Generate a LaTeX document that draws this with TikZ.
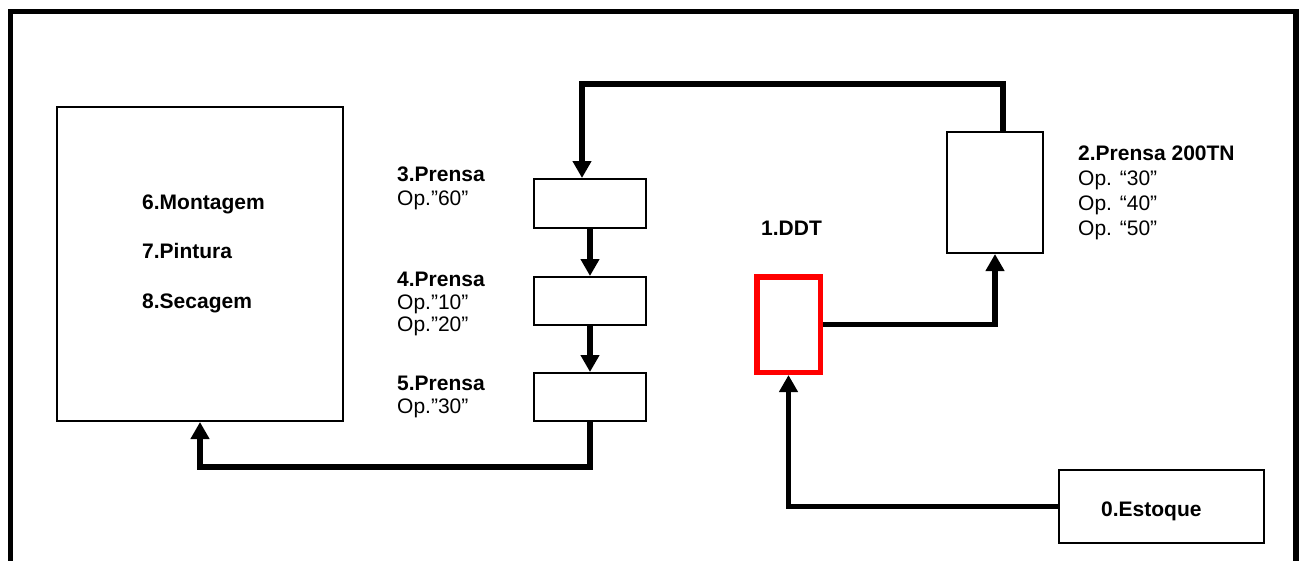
\documentclass[tikz,border=0pt]{standalone}
\usepackage{fontspec}
\setmainfont{Liberation Sans}
\usetikzlibrary{arrows.meta}
\begin{document}
\begin{tikzpicture}[x=1pt,y=-1pt,
  box/.style={draw=black,line width=2pt,fill=white,inner sep=0pt,rectangle},
  conn/.style={line width=5.5pt,line join=miter,-{Triangle[width=18pt,length=17pt]}},
  plain/.style={line width=5.5pt,line join=miter},
  lbl/.style={anchor=base west,inner sep=0pt,font=\fontsize{21}{25}\selectfont},
  blbl/.style={lbl,font=\fontsize{21}{25}\selectfont\bfseries}]
\useasboundingbox (0,0) rectangle (1300,560);
\fill[white] (0,0) rectangle (1300,560);
% outer frame (open at the bottom edge of the picture)
\draw[line width=5.5pt,line join=miter] (10.5,575) -- (10.5,11.5) -- (1296,11.5) -- (1296,575);

% boxes
\node[box,minimum width=286pt,minimum height=314pt] (mont) at (200,264) {};
\node[box,minimum width=112pt,minimum height=49pt] (p3) at (590,203.5) {};
\node[box,minimum width=112pt,minimum height=48pt] (p4) at (590,301) {};
\node[box,minimum width=112pt,minimum height=48pt] (p5) at (590,397) {};
\node[box,minimum width=96pt,minimum height=121pt] (p2) at (995,192.5) {};
\node[draw=red,line width=5.5pt,inner sep=0pt,minimum width=63.5pt,minimum height=95.5pt] (ddt) at (788.5,324.5) {};
\node[box,minimum width=205pt,minimum height=73pt] (est) at (1161.5,506.5) {};

% connectors
\coordinate (topy) at (0,84);
\coordinate (boty) at (0,467);
\draw[conn] ([xshift=8pt]p2.north) -- ([xshift=8pt]p2.north |- topy) -- ([xshift=-8pt]p3.north |- topy) -- ([xshift=-8pt]p3.north);
\draw[conn] (p3.south) -- (p4.north);
\draw[conn] (p4.south) -- (p5.north);
\draw[conn] (p5.south) -- (p5.south |- boty) -| (mont.south);
\draw[conn] (ddt.east) -| (p2.south);
\draw[conn] (est.west) -| (ddt.south);

% labels
\node[blbl] (t6) at (142,209) {6.Montagem};
\node[blbl] (t7) at (142,258) {7.Pintura};
\node[blbl] (t8) at (142,308) {8.Secagem};

\node[blbl] (t3a) at (397,181.7) {3.Prensa};
\node[lbl]  (t3b) at (397,205) {Op.”60”};
\node[blbl] (t4a) at (397,286) {4.Prensa};
\node[lbl]  (t4b) at (397,309) {Op.”10”};
\node[lbl]  (t4c) at (397,331) {Op.”20”};
\node[blbl] (t5a) at (397,390) {5.Prensa};
\node[lbl]  (t5b) at (397,413) {Op.”30”};

\node[blbl] (t2a) at (1078,160.7) {2.Prensa 200TN};
\node[lbl]  (t2b) at (1078,185.7) {Op. “30”};
\node[lbl]  (t2c) at (1078,210.7) {Op. “40”};
\node[lbl]  (t2d) at (1078,235) {Op. “50”};

\node[blbl] (t1) at (761,235) {1.DDT};
\node[blbl] (t0) at (1101,516) {0.Estoque};
\end{tikzpicture}
\end{document}
